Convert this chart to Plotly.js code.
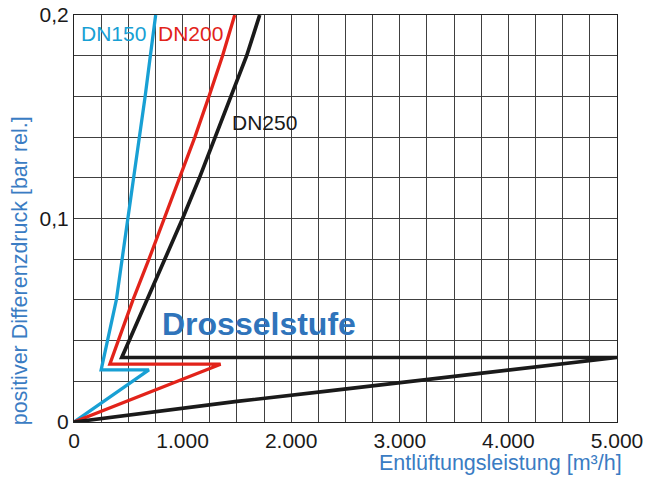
<!DOCTYPE html>
<html>
<head>
<meta charset="utf-8">
<script src="https://cdn.plot.ly/plotly-3.0.1.min.js"></script>
<style>html,body{margin:0;padding:0;background:#fff;}#chart{width:661px;height:480px;}</style>
</head>
<body>
<div id="chart"></div>
<script>
// Data (flow m³/h vs. pressure bar rel.)
const dn150Flow  = [0, 690, 250, 330, 390, 443, 497, 553, 606, 655, 703, 752];
const dn150Press = [0, 0.0256, 0.0256, 0.045, 0.06, 0.08, 0.1, 0.12, 0.14, 0.16, 0.18, 0.2];

const dn200Flow  = [0, 1350, 330, 442, 543, 690, 830, 973, 1113, 1243, 1368, 1480];
const dn200Press = [0, 0.0284, 0.0284, 0.0454, 0.06, 0.08, 0.1, 0.12, 0.14, 0.16, 0.18, 0.2];

const dn250Flow  = [0, 1500, 2350, 3250, 5000, 440, 553, 672, 840, 1000, 1155, 1300, 1450, 1590, 1710];
const dn250Press = [0, 0.0101, 0.0153, 0.021, 0.0317, 0.0317, 0.0454, 0.06, 0.08, 0.1, 0.12, 0.14, 0.16, 0.18, 0.2];

const seriesNames = ["DN150", "DN200", "DN250"];
const xTickVals = [0, 1000, 2000, 3000, 4000, 5000];
const xTickText = ["0", "1.000", "2.000", "3.000", "4.000", "5.000"];
const yTickVals = [0, 0.1, 0.2];
const yTickText = ["0", "0,1", "0,2"];
const stageLabel = "Drosselstufe";
const xTitle = "Entlüftungsleistung [m³/h]";
const yTitle = "positiver Differenzdruck [bar rel.]";

const FONT = "Liberation Sans, Arial, Helvetica, sans-serif";
const BLUE = "#18a0d4";
const RED = "#e2231a";
const BLACK = "#1a1a1a";
const TITLEBLUE = "#3a7cc3";
const GRID = "#404040";

const traces = [
  {x: dn150Flow, y: dn150Press, name: seriesNames[0], mode: "lines",
   line: {color: BLUE, width: 3.3}},
  {x: dn200Flow, y: dn200Press, name: seriesNames[1], mode: "lines",
   line: {color: RED, width: 3.3}},
  {x: dn250Flow, y: dn250Press, name: seriesNames[2], mode: "lines",
   line: {color: BLACK, width: 3.7}}
];

const layout = {
  width: 661, height: 480,
  margin: {l: 74, r: 44, t: 15, b: 58},
  paper_bgcolor: "#fff", plot_bgcolor: "#fff",
  showlegend: false,
  font: {family: FONT, size: 21, color: "#1a1a1a"},
  xaxis: {
    range: [0, 5000], tickvals: xTickVals, ticktext: xTickText,
    showgrid: true, gridcolor: GRID, gridwidth: 1,
    minor: {dtick: 250, showgrid: true, gridcolor: GRID, gridwidth: 1, ticks: ""},
    showline: true, mirror: true, linecolor: "#222", linewidth: 1,
    ticks: "", zeroline: false, fixedrange: true,
    tickfont: {family: FONT, size: 21, color: "#1a1a1a"}
  },
  yaxis: {
    range: [0, 0.2], tickvals: yTickVals, ticktext: yTickText,
    showgrid: true, gridcolor: GRID, gridwidth: 1,
    minor: {dtick: 0.02, showgrid: true, gridcolor: GRID, gridwidth: 1, ticks: ""},
    showline: true, mirror: true, linecolor: "#222", linewidth: 1,
    ticks: "", zeroline: false, fixedrange: true, ticklabelstandoff: 0,
    tickfont: {family: FONT, size: 21, color: "#1a1a1a"}
  },
  annotations: [
    {text: seriesNames[0], x: 366, y: 0.1907, xref: "x", yref: "y", showarrow: false,
     font: {family: FONT, size: 21, color: BLUE}, xanchor: "center", yanchor: "middle"},
    {text: seriesNames[1], x: 1070, y: 0.1907, xref: "x", yref: "y", showarrow: false,
     font: {family: FONT, size: 21, color: RED}, xanchor: "center", yanchor: "middle"},
    {text: seriesNames[2], x: 1751, y: 0.147, xref: "x", yref: "y", showarrow: false,
     font: {family: FONT, size: 21, color: BLACK}, xanchor: "center", yanchor: "middle"},
    {text: "<b>" + stageLabel + "</b>", x: 1701, y: 0.048, xref: "x", yref: "y", showarrow: false,
     font: {family: FONT, size: 32, color: "#2f74bb"}, xanchor: "center", yanchor: "middle"},
    {text: xTitle, x: 1.013, y: -0.1, xref: "paper", yref: "paper", showarrow: false,
     font: {family: FONT, size: 21.5, color: TITLEBLUE}, xanchor: "right", yanchor: "middle"},
    {text: yTitle, x: -0.1, y: 0.372, xref: "paper", yref: "paper", showarrow: false,
     textangle: -90, font: {family: FONT, size: 21.5, color: TITLEBLUE}, xanchor: "center", yanchor: "middle"}
  ]
};

Plotly.newPlot("chart", traces, layout, {staticPlot: true, displayModeBar: false});
</script>
</body>
</html>
